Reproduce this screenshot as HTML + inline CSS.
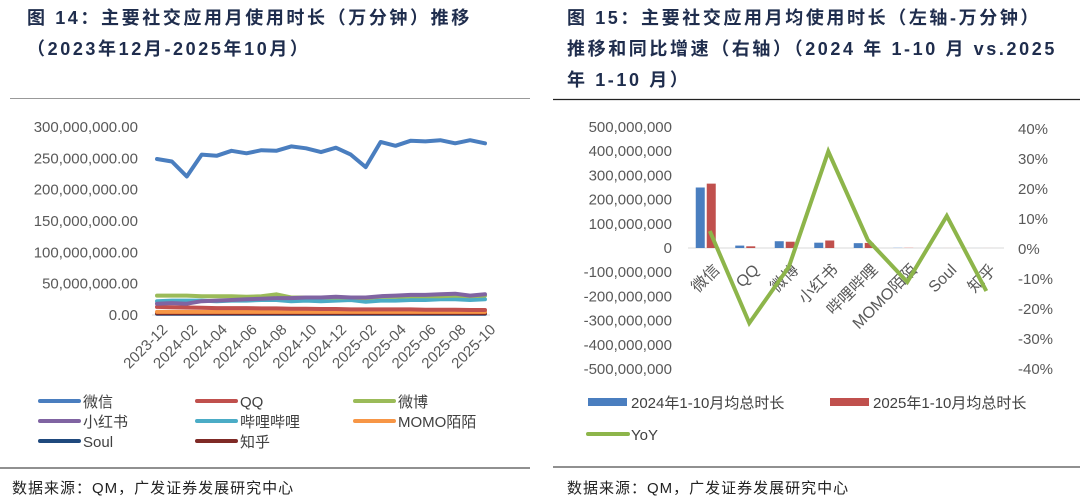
<!DOCTYPE html>
<html><head><meta charset="utf-8">
<style>
body{margin:0;width:1080px;height:502px;background:#fff;overflow:hidden;font-family:"Liberation Sans","Noto Sans CJK SC",sans-serif;}
.t{position:absolute;font-weight:bold;font-size:18px;color:#1f2d4d;line-height:31px;letter-spacing:2.6px;white-space:nowrap;}
.src{position:absolute;font-size:15px;color:#222;letter-spacing:1px;}
svg{position:absolute;left:0;top:0;}
</style></head><body>
<div class="t" style="left:27px;top:3px;">图 14：主要社交应用月使用时长（万分钟）推移<br>（2023年12月-2025年10月）</div>
<div class="t" style="left:567px;top:3px;">图 15：主要社交应用月均使用时长（左轴-万分钟）<br>推移和同比增速（右轴）（2024 年 1-10 月 vs.2025<br>年 1-10 月）</div>
<div class="src" style="left:12px;top:477px;">数据来源：QM，广发证券发展研究中心</div>
<div class="src" style="left:567px;top:477px;">数据来源：QM，广发证券发展研究中心</div>
<svg id="s" width="1080" height="502" xmlns="http://www.w3.org/2000/svg" font-family="Liberation Sans, Noto Sans CJK SC, sans-serif">
<line x1="10" y1="98.5" x2="530" y2="98.5" stroke="#999" stroke-width="1"/>
<line x1="553" y1="99.5" x2="1080" y2="99.5" stroke="#222" stroke-width="1.2"/>
<line x1="0" y1="468" x2="530" y2="468" stroke="#222" stroke-width="1"/>
<line x1="553" y1="467" x2="1080" y2="467" stroke="#222" stroke-width="1"/>
</svg>
<script>
// ---------- Left chart data ----------
const months=["2023-12","2024-01","2024-02","2024-03","2024-04","2024-05","2024-06","2024-07","2024-08","2024-09","2024-10","2024-11","2024-12","2025-01","2025-02","2025-03","2025-04","2025-05","2025-06","2025-07","2025-08","2025-09","2025-10"];
const leftTicks=[0,50000000,100000000,150000000,200000000,250000000,300000000];
const seriesNames=["微信","QQ","微博","小红书","哔哩哔哩","MOMO陌陌","Soul","知乎"];
const seriesColors=["#4a7ebf","#c0504d","#9bbb59","#8064a2","#4bacc6","#f79646","#1f497d","#7f2a26"];
const wechat=[249,245,221,256,254,262,258,263,262,269,266,260,267,256,236,276,270,278,277,279,274,279,274];
const qq=[13,12.5,12,11.5,11,11,11,10.5,10.5,10,10,9.5,9.5,9,9,9,9,9,8.5,8.5,8.5,8,8];
const weibo=[31,31,31,30,30,30,29,30,33,28,28,28,28,28,27,29,29,30,30,30,31,30,31];
const xhs=[18,19,18,22,23,24,25,26,27,27,28,28,29,28,28,30,31,32,32,33,34,31,33];
const bili=[22,23,23,23,22,23,23,24,24,22,23,22,23,24,21,23,23,24,24,25,25,24,25];
const momo=[5,5,5,5,5,5,5,5,5,5,5,5,5,5,5,5,5,5,5,5,5,5,5];
const soul=[2,2,2,2,2,2,2,2,2,2,2,2,2,2,2,2,2,2,2,2,2,2,2];
const zhihu=[3,3,3,3,3,3,3,3,3,3,3,3,3,3,3,3,3,3,3,3,3,3,3];
// ---------- Right chart data ----------
const apps=["微信","QQ","微博","小红书","哔哩哔哩","MOMO陌陌","Soul","知乎"];
const v2024=[250,10,28,22,20,3,0.5,0.5];
const v2025=[266,7,26,31,21,3,0.5,0.5];
const yoy=[6,-24.7,-6,32.5,3,-11,11,-14];
const rightTicksL=[-500,-400,-300,-200,-100,0,100,200,300,400,500];
const rightTicksR=[-40,-30,-20,-10,0,10,20,30,40];

const NS="http://www.w3.org/2000/svg";
const svg=document.getElementById('s');
function mk(tag,attrs,parent){const e=document.createElementNS(NS,tag);for(const k in attrs)e.setAttribute(k,attrs[k]);(parent||svg).appendChild(e);return e;}
function fmt(n){return n.toLocaleString('en-US');}

// Left axes
const lx0=157,lx1=485,ly0=315,ly1=127;
const lX=i=>lx0+(lx1-lx0)*i/(months.length-1);
const lY=v=>ly0-(ly0-ly1)*v/300000000;
let e=mk('line',{x1:lx0-5,y1:ly0,x2:lx1+5,y2:ly0,stroke:'#d9d9d9','stroke-width':1});

leftTicks.forEach(t=>{
  const tx=mk('text',{x:138,y:lY(t)+5,'text-anchor':'end','font-size':15,fill:'#595959'});
  tx.textContent=fmt(t)+'.00';
  
  
});
months.forEach((m,i)=>{
  if(i%2)return;
  const x=lX(i)+4,y=ly0+8;
  const tx=mk('text',{x:x,y:y,'text-anchor':'end','font-size':15,fill:'#595959',transform:`rotate(-45 ${x} ${y})`,dy:'0.7em'});
  tx.textContent=m;
  
  
});
const allSeries=[wechat,qq,weibo,xhs,bili,momo,soul,zhihu];
const drawOrder=[6,7,5,1,4,2,3,0];
drawOrder.forEach(si=>{
  const d=allSeries[si].map((v,i)=>(i?'L':'M')+lX(i).toFixed(1)+' '+lY(v*1e6).toFixed(1)).join(' ');
  const p=mk('path',{d:d,fill:'none',stroke:seriesColors[si],'stroke-width':4,'stroke-linejoin':'round','stroke-linecap':'round'});
  
  
});
// Left legend
const legPos=[[40,401],[197,401],[355,401],[40,421],[197,421],[355,421],[40,441],[197,441]];
seriesNames.forEach((n,i)=>{
  const [x,y]=legPos[i];
  const g=mk('g',{});
  
  
  mk('line',{x1:x,y1:y,x2:x+39,y2:y,stroke:seriesColors[i],'stroke-width':4,'stroke-linecap':'round'},g);
  const t=mk('text',{x:x+43,y:y+6,'font-size':15,fill:'#404040'},g);t.textContent=n;
});

// Right chart axes
const rx0=688,rx1=1004,ry0=248,rpx=24.2;
const rY=v=>ry0-v*rpx/100;
const rY2=p=>249-p*3;
const cw=(rx1-rx0)/apps.length;
e=mk('line',{x1:rx0,y1:ry0,x2:rx1,y2:ry0,stroke:'#d9d9d9','stroke-width':1});

rightTicksL.forEach(t=>{
  const tx=mk('text',{x:672,y:rY(t)+5,'text-anchor':'end','font-size':15,fill:'#595959'});
  tx.textContent=fmt(t*1000000);
  
  
});
rightTicksR.forEach(t=>{
  const tx=mk('text',{x:1018,y:rY2(t)+5,'font-size':15,fill:'#595959'});
  tx.textContent=t+'%';
  
  
});
apps.forEach((a,i)=>{
  const cx=rx0+cw*(i+0.5);
  const light=i>=5;
  let r=mk('rect',{x:cx-12,y:rY(v2024[i]),width:9,height:ry0-rY(v2024[i]),fill:light?'#c5d6ec':'#4a7ebf'});
  
  r=mk('rect',{x:cx-1,y:rY(v2025[i]),width:9,height:ry0-rY(v2025[i]),fill:light?'#ecc6c5':'#c0504d'});
  
  const x=cx+6,y=ry0+16;
  const tx=mk('text',{x:x,y:y,'text-anchor':'end','font-size':16,fill:'#595959',transform:`rotate(-45 ${x} ${y})`,dy:'0.6em'});
  tx.textContent=a;
  
  
});
const yd=yoy.map((v,i)=>(i?'L':'M')+(rx0+cw*(i+0.5)+2).toFixed(1)+' '+rY2(v).toFixed(1)).join(' ');
e=mk('path',{d:yd,fill:'none',stroke:'#8db54a','stroke-width':4,'stroke-linejoin':'miter'});

// Right legend
let g=mk('g',{});
mk('rect',{x:588,y:398,width:39,height:8,fill:'#4a7ebf'},g);
let t=mk('text',{x:631,y:408,'font-size':15,fill:'#404040'},g);t.textContent='2024年1-10月均总时长';
g=mk('g',{});
mk('rect',{x:830,y:398,width:39,height:8,fill:'#c0504d'},g);
t=mk('text',{x:873,y:408,'font-size':15,fill:'#404040'},g);t.textContent='2025年1-10月均总时长';
g=mk('g',{});
mk('line',{x1:588,y1:434,x2:628,y2:434,stroke:'#8db54a','stroke-width':4,'stroke-linecap':'round'},g);
t=mk('text',{x:631,y:440,'font-size':15,fill:'#404040'},g);t.textContent='YoY';
</script>
</body></html>
